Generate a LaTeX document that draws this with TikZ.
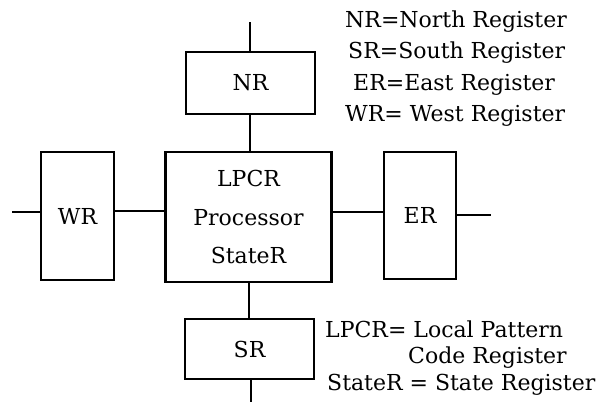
\documentclass[tikz,border=0pt]{standalone}
\usepackage{fontspec}
\setmainfont{DejaVu Serif}
\begin{document}
\begin{tikzpicture}[x=1pt,y=-1pt,
  txt/.style={font=\fontsize{22}{38.5}\selectfont},
  reg/.style={draw, line width=2.1pt, inner sep=0pt, txt, align=center},
  wire/.style={line width=2.1pt},
  legend/.style={anchor=base west, inner sep=0pt, txt}]
\useasboundingbox (0,0) rectangle (604,402);

% register boxes
\node[reg, minimum width=129pt, minimum height=62pt] (NR) at (250.5,83) {NR};
\node[reg, minimum width=166pt, minimum height=130pt] (P) at (248.5,217) {LPCR\\Processor\\StateR};
\node[reg, minimum width=73pt, minimum height=128pt] (WR) at (77.5,216) {WR};
\node[reg, minimum width=72pt, minimum height=127pt] (ER) at (420,215.5) {ER};
\node[reg, minimum width=129pt, minimum height=60pt] (SR) at (249.5,349) {SR};

% free ends of the outer links
\coordinate (nEnd) at (250,22);
\coordinate (wEnd) at (12,212);
\coordinate (eEnd) at (491,215);
\coordinate (sEnd) at (251,402);

% links
\draw[wire] (nEnd) -- (NR.north -| nEnd);
\draw[wire] (NR.south -| nEnd) -- (P.north -| nEnd);
\draw[wire] (P.south -| 249,0) -- (SR.north -| 249,0);
\draw[wire] (SR.south -| sEnd) -- (sEnd);
\draw[wire] (wEnd) -- (WR.west |- wEnd);
\draw[wire] (WR.east |- 0,211) -- (P.west |- 0,211);
\draw[wire] (P.east |- 0,212) -- (ER.west |- 0,212);
\draw[wire] (ER.east |- eEnd) -- (eEnd);

% abbreviations
\node[legend] (l1) at (345,27) {NR=North Register};
\node[legend] (l2) at (348,58) {SR=South Register};
\node[legend] (l3) at (353,90) {ER=East Register};
\node[legend] (l4) at (345,121) {WR= West Register};
\node[legend] (l5) at (325,337) {LPCR= Local Pattern};
\node[legend] (l6) at (408,363) {Code Register};
\node[legend] (l7) at (327,390) {StateR = State Register};
\end{tikzpicture}
\end{document}
